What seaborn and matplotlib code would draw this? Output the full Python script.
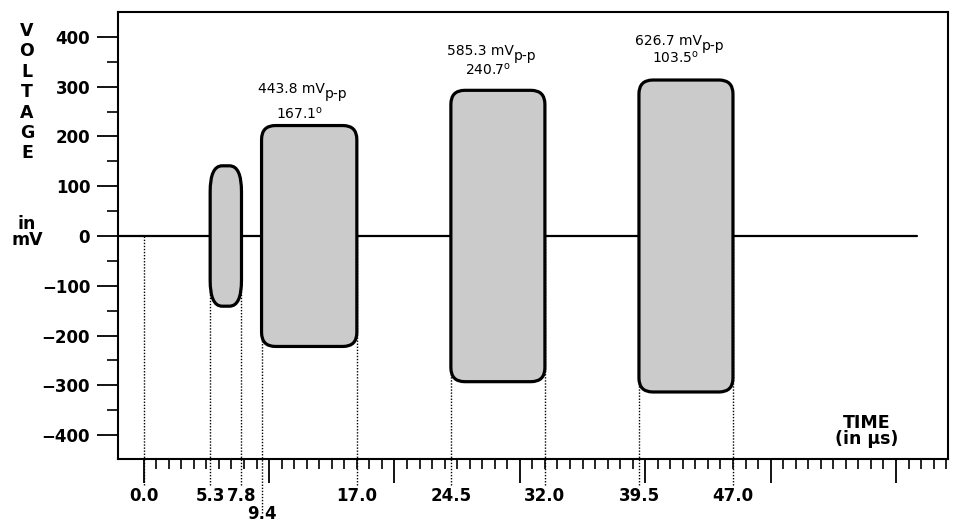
import numpy as np
import matplotlib
matplotlib.use("Agg")
import matplotlib.pyplot as plt
import seaborn as sns
from matplotlib.patches import FancyBboxPatch
from matplotlib.ticker import FixedLocator, MultipleLocator, NullFormatter

# ---------------- data ----------------
burst_start = [5.3, 9.4, 24.5, 39.5]          # µs
burst_end = [7.8, 17.0, 32.0, 47.0]           # µs
burst_pp = [282.0, 443.8, 585.3, 626.7]       # mV peak-to-peak
burst_phase = [None, 167.1, 240.7, 103.5]     # degrees
burst_labeled = [False, True, True, True]

event_times = [0.0, 5.3, 7.8, 17.0, 24.5, 32.0, 39.5, 47.0]
event_labels = ["0.0", "5.3", "7.8", "17.0", "24.5", "32.0", "39.5", "47.0"]
low_event_times = [9.4]
low_event_labels = ["9.4"]

baseline_t = [-2.05, 61.7]
baseline_v = [0.0, 0.0]

y_ticks = [-400, -300, -200, -100, 0, 100, 200, 300, 400]
y_minor = [-350, -250, -150, -50, 50, 150, 250, 350]

# ---------------- style ----------------
sns.set_theme(style="ticks")
plt.rcParams["font.family"] = ["DejaVu Sans"]
plt.rcParams["mathtext.fontset"] = "dejavusans"
plt.rcParams["mathtext.default"] = "regular"
plt.rcParams["axes.unicode_minus"] = True
for k in ["text.color", "axes.labelcolor", "xtick.color", "ytick.color", "axes.edgecolor"]:
    plt.rcParams[k] = "black"

W, H = 954, 526
fig = plt.figure(figsize=(W / 100, H / 100), dpi=100)
ax = fig.add_axes([118 / W, 67 / H, 830 / W, 447 / H])

XMIN, XMAX = -2.05, 64.15
YMIN, YMAX = -448, 450
ax.set_xlim(XMIN, XMAX)
ax.set_ylim(YMIN, YMAX)

px_x = 830 / (XMAX - XMIN)   # pixels per µs
px_y = 447 / (YMAX - YMIN)   # pixels per mV

# zero baseline signal
sns.lineplot(x=baseline_t, y=baseline_v, ax=ax, color="black", linewidth=1.6, zorder=2)

# dotted event lines (behind bursts), extending below axis to labels
all_t = event_times + low_event_times
ext = [-500] * len(event_times) + [-556] * len(low_event_times)
ax.vlines(all_t, ext, 0, colors="black", linestyles=(0, (1.0, 1.2)),
          linewidth=1.0, clip_on=False, zorder=1.5)

# annotation placement (mV above burst top for the two text lines)
label_offsets = {1: (65, 13), 2: (71, 31), 3: (71, 35)}

# bursts as rounded boxes
for i, (s, e, pp) in enumerate(zip(burst_start, burst_end, burst_pp)):
    amp = pp / 2
    if i == 0:
        rx_px, ry_px = 12, 26
    else:
        rx_px, ry_px = 14, 14
    rx = rx_px / px_x
    ry = ry_px / px_y
    box = FancyBboxPatch((s, -amp), e - s, 2 * amp,
                         boxstyle=f"round,pad=0,rounding_size={rx}",
                         mutation_aspect=ry / rx,
                         facecolor="#cbcbcb", edgecolor="black",
                         linewidth=2.3, zorder=3)
    ax.add_patch(box)
    if burst_labeled[i]:
        o1, o2 = label_offsets[i]
        cx = (s + e) / 2
        t1 = ax.text(cx - 0.35 - 13.5 / px_x, amp + o1, f"{pp:.1f} mV", ha="center",
                     va="baseline", fontsize=10, color="black")
        ax.annotate("p-p", xy=(1, 0), xycoords=t1, xytext=(0, -3.5),
                    textcoords="offset points", ha="left", va="bottom",
                    fontsize=10, color="black")
        ax.text(cx - 0.8, amp + o2, f"{burst_phase[i]:.1f}$^{{o}}$", ha="center",
                va="baseline", fontsize=10, color="black")

# axes frame
for sp in ax.spines.values():
    sp.set_visible(True)
    sp.set_linewidth(1.5)
    sp.set_color("black")

# y axis ticks
ax.yaxis.set_major_locator(FixedLocator(y_ticks))
ax.yaxis.set_minor_locator(FixedLocator(y_minor))
ax.set_yticklabels([str(v).replace("-", "\u2212") for v in y_ticks])
ax.tick_params(axis="y", which="major", length=15, width=1.3, pad=5,
               labelsize=12, direction="out", colors="black")
ax.tick_params(axis="y", which="minor", length=8, width=1.2, direction="out",
               colors="black")
for lbl in ax.get_yticklabels():
    lbl.set_fontweight("bold")

# x axis ticks: long every 10 µs, short every 1 µs, no labels here
ax.xaxis.set_major_locator(MultipleLocator(10))
ax.xaxis.set_minor_locator(FixedLocator(np.arange(0, 65, 1)))
ax.xaxis.set_major_formatter(NullFormatter())
ax.tick_params(axis="x", which="major", length=17, width=1.3, direction="out",
               colors="black")
ax.tick_params(axis="x", which="minor", length=7, width=1.2, direction="out",
               colors="black")

# event labels on secondary x axes
sec = ax.secondary_xaxis("bottom")
sec.set_xticks(event_times)
sec.set_xticklabels(event_labels)
sec.tick_params(axis="x", length=0, pad=20.5, labelsize=12, labelcolor="black")
sec.spines["bottom"].set_visible(False)
for lbl in sec.get_xticklabels():
    lbl.set_fontweight("bold")

sec2 = ax.secondary_xaxis("bottom")
sec2.set_xticks(low_event_times)
sec2.set_xticklabels(low_event_labels)
sec2.tick_params(axis="x", length=0, pad=33, labelsize=12, labelcolor="black")
sec2.spines["bottom"].set_visible(False)
for lbl in sec2.get_xticklabels():
    lbl.set_fontweight("bold")

ax.set_xlabel("")
ax.set_ylabel("")

# axis titles
fig.text(27 / W, 1 - 22 / H, "V\nO\nL\nT\nA\nG\nE", ha="center", va="top",
         fontsize=12.5, fontweight="bold", linespacing=1.17, color="black")
fig.text(27 / W, 1 - 232 / H, "in\nmV", ha="center", va="center",
         fontsize=12.5, fontweight="bold", linespacing=0.9, color="black")
ax.text(57.7, -392, "TIME\n(in \u00b5s)", ha="center", va="center",
        fontsize=12.5, fontweight="bold", linespacing=0.9, color="black")

fig.savefig("out.png", dpi=100, facecolor="white")
